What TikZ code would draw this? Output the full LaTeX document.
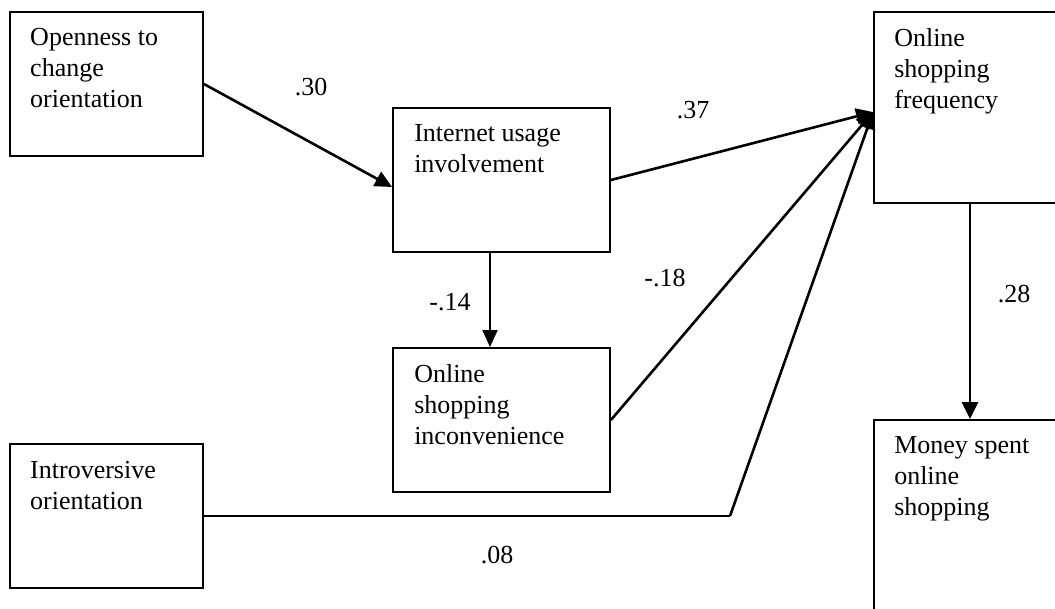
\documentclass[tikz,border=0pt]{standalone}
\usepackage{fontspec}
\setmainfont{Liberation Serif}
\usetikzlibrary{arrows.meta,calc}
\begin{document}
\begin{tikzpicture}[x=1pt,y=-1pt,
  box/.style={draw,line width=1.9pt,rectangle,inner sep=0pt},
  txt/.style={anchor=north west,inner sep=0pt,align=left,font=\fontsize{26}{30.8}\selectfont},
  lbl/.style={anchor=base,inner sep=0pt,font=\fontsize{26}{30.8}\selectfont},
  arr/.style={line width=2.6pt,-{Triangle[length=17pt,width=16pt]}},
  thinarr/.style={line width=2pt,-{Triangle[length=17pt,width=15pt]}},
  thin/.style={line width=2pt}]
\useasboundingbox (0,0) rectangle (1055,608);
\clip (0,0) rectangle (1055,608);
\fill[white] (0,0) rectangle (1055,608);
% boxes
\node[box,minimum width=193pt,minimum height=144pt] (open) at (106.5,84) {};
\node[box,minimum width=217pt,minimum height=144pt] (int) at (501.5,180) {};
\node[box,minimum width=217pt,minimum height=144pt] (inc) at (501.5,420) {};
\node[box,minimum width=193pt,minimum height=144pt] (intro) at (106.5,516) {};
\node[box,minimum width=192pt,minimum height=191pt] (freq) at (970,107.5) {};
\node[box,minimum width=192pt,minimum height=191pt] (money) at (970,515.5) {};
% texts
\node[txt] (topen) at ($(open.north west)+(21,17.5)$) {Openness to\\change\\orientation};
\node[txt] (tint) at ($(int.north west)+(22,17.5)$) {Internet usage\\involvement};
\node[txt] (tinc) at ($(inc.north west)+(22,17.5)$) {Online\\shopping\\inconvenience};
\node[txt] (tintro) at ($(intro.north west)+(21,18)$) {Introversive\\orientation};
\node[txt] (tfreq) at ($(freq.north west)+(21,17.5)$) {Online\\shopping\\frequency};
\node[txt] (tmoney) at ($(money.north west)+(21,17.5)$) {Money spent\\online\\shopping};
% connector ends
\coordinate (fin) at ($(freq.north west)+(0,101)$);
\coordinate (intin) at ($(int.west)+(0,7)$);
\coordinate (bend) at (730,516);
% connectors
\draw[arr] (open.east) -- (intin);
\draw[arr] (int.east) -- (fin);
\draw[arr] (inc.east) -- (fin);
\draw[thin] (intro.east) -- (bend);
\draw[arr] (bend) -- (fin);
\draw[thinarr] ($(int.south)+(-11.5,0)$) -- ($(inc.north)+(-11.5,0)$);
\draw[arr] (freq.south) -- (money.north);
% labels
\node[lbl] (l30) at (311,95) {.30};
\node[lbl] (l37) at (693,118) {.37};
\node[lbl] (l14) at (450,310) {-.14};
\node[lbl] (l18) at (665,286) {-.18};
\node[lbl] (l28) at (1014,302) {.28};
\node[lbl] (l08) at (497,563) {.08};
\end{tikzpicture}
\end{document}
